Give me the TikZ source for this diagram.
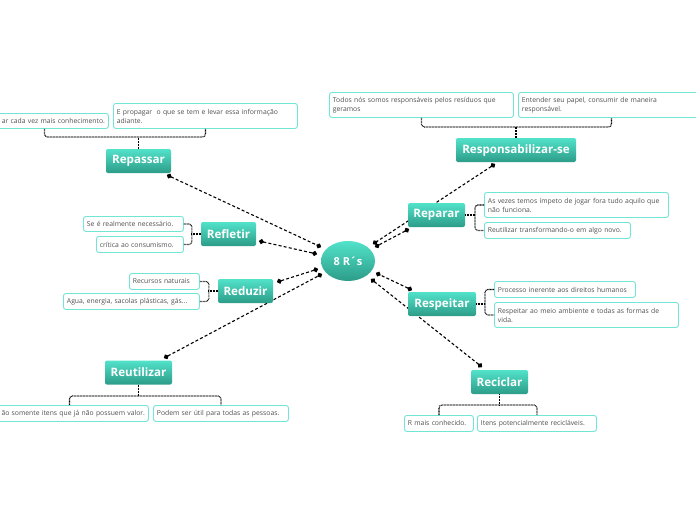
\documentclass[tikz,border=0pt]{standalone}
\usepackage{fontspec}
\setmainfont{Open Sans}
\usetikzlibrary{shapes.geometric,arrows.meta}
\definecolor{tealtop}{HTML}{52E2CA}
\definecolor{tealbot}{HTML}{2C9C88}
\definecolor{subc}{HTML}{72E6D6}
\definecolor{txt}{HTML}{505050}
\begin{document}
\begin{tikzpicture}[x=1pt,y=-1pt,
  topic/.style={rounded corners=2pt, top color=tealtop, bottom color=tealbot, draw=none,
    text=white, font=\fontsize{11.6}{13}\selectfont\bfseries, minimum height=24pt, inner sep=0pt},
  sub/.style 2 args={draw=subc, fill=white, line width=0.9pt, rounded corners=2.5pt, text=txt,
    font=\fontsize{6.8}{9}\selectfont, align=left, inner xsep=3.5pt, inner ysep=0pt,
    anchor=north west, text width=#1pt, minimum height=#2pt},
  conn/.style={black, line width=1.1pt, dash pattern=on 3pt off 2.2pt, {Circle[length=5pt]}-{Circle[length=5pt]}},
  brace/.style={black, line width=1.1pt, dash pattern=on 0.8pt off 0.7pt, rounded corners=3pt}]
\useasboundingbox (0,0) rectangle (696,520);
\fill[white] (0,0) rectangle (696,520);
\clip (0,0) rectangle (696,520);

% connector end points (drawn first, behind the nodes)
\coordinate (a1) at (167,175); \coordinate (b1) at (321,247);
\coordinate (a2) at (259,241); \coordinate (b2) at (317,254);
\coordinate (a3) at (277,282); \coordinate (b3) at (318,269);
\coordinate (a4) at (164,358); \coordinate (b4) at (322,274);
\coordinate (a5) at (495,164); \coordinate (b5) at (373,244);
\coordinate (a6) at (409,229); \coordinate (b6) at (375,247);
\coordinate (a7) at (412,290); \coordinate (b7) at (376,273);
\coordinate (a8) at (482,367); \coordinate (b8) at (371,279);
\foreach \i in {1,...,8} \draw[conn] (a\i) -- (b\i);

% center
\node[ellipse, top color=tealtop, bottom color=tealbot, text=white, minimum width=54pt, minimum height=40pt,
  inner sep=0pt, font=\fontsize{11}{12}\selectfont\bfseries] (c) at (348,261) {8 R´s};

% topics
\node[topic, minimum width=65pt] (rep) at (138.5,161) {Repassar};
\node[topic, minimum width=120pt] (res) at (516,150) {Responsabilizar-se};
\node[topic, minimum width=55pt] (ref) at (228.5,234) {Refletir};
\node[topic, minimum width=55pt] (red) at (245.5,291) {Reduzir};
\node[topic, minimum width=67pt] (reu) at (138.5,372.5) {Reutilizar};
\node[topic, minimum width=57pt] (rpr) at (436.5,215) {Reparar};
\node[topic, minimum width=68pt] (rsp) at (442,304) {Respeitar};
\node[topic, minimum width=57pt] (rec) at (499.5,382) {Reciclar};

% subtopics
\node[sub={121}{15}, align=right] (rp1) at (-20,113) {\mbox{ar cada vez mais conhecimento.}};
\node[sub={177}{25}] (rp2) at (113,103) {\mbox{E propagar\ \ o que se tem e levar essa informação}\\adiante.};
\node[sub={177}{25}] (rs1) at (329,92) {\mbox{Todos nós somos responsáveis pelos resíduos que}\\geramos};
\node[sub={179}{25}] (rs2) at (518,92) {\mbox{Entender seu papel, consumir de maneira}\\responsável.};
\node[sub={93}{15}] (rf1) at (83,216) {\mbox{Se é realmente necessário.}};
\node[sub={80}{16}] (rf2) at (96,236) {\mbox{crítica ao consumismo.}};
\node[sub={63}{16}] (rd1) at (129,273) {\mbox{Recursos naturais}};
\node[sub={129}{16}] (rd2) at (63,293) {\mbox{Agua, energia, sacolas plásticas, gás...}};
\node[sub={151}{16}, align=right] (ru1) at (-10,405) {\mbox{ão somente itens que já não possuem valor.}};
\node[sub={128}{16}] (ru2) at (153,405) {\mbox{Podem ser útil para todas as pessoas.}};
\node[sub={177}{25}] (rr1) at (484,192) {\mbox{As vezes temos ímpeto de jogar fora tudo aquilo que}\\não funciona.};
\node[sub={139}{16}] (rr2) at (484,222) {\mbox{Reutilizar transformando-o em algo novo.}};
\node[sub={134}{16}] (re1) at (494,281) {\mbox{Processo inerente aos direitos humanos}};
\node[sub={177}{25}] (re2) at (494,302) {\mbox{Respeitar ao meio ambiente e todas as formas de}\\vida.};
\node[sub={62}{16}] (rc1) at (404,415) {\mbox{R mais conhecido.}};
\node[sub={112}{16}] (rc2) at (477,415) {\mbox{Itens potencialmente recicláveis.}};

% braces
\draw[brace] (rp1.south) -- (rp1.south |- 0,137) -- (rp2.south |- 0,137) -- (rp2.south);
\draw[brace] (rep.north) -- (rep.north |- 0,137);
\draw[brace] (rs1.south) -- (rs1.south |- 0,127) -- (rs2.south |- 0,127) -- (rs2.south);
\draw[brace] (res.north) -- (res.north |- 0,127);
\draw[brace] (ru1.north) -- (ru1.north |- 0,396) -- (ru2.north |- 0,396) -- (ru2.north);
\draw[brace] (reu.south) -- (reu.south |- 0,396);
\draw[brace] (rc1.north) -- (rc1.north |- 0,405) -- (rc2.north |- 0,405) -- (rc2.north);
\draw[brace] (rec.south) -- (rec.south |- 0,405);
\draw[brace] (rf1.east) -- ++(8,0) |- (rf2.east);
\draw[brace] (ref.west) -- ++(-10,0);
\draw[brace] (rd1.east) -- ++(9,0) |- (rd2.east);
\draw[brace] (red.west) -- ++(-10,0);
\draw[brace] (rr1.west) -- ++(-9,0) |- (rr2.west);
\draw[brace] (rpr.east) -- ++(10,0);
\draw[brace] (re1.west) -- ++(-9,0) |- (re2.west);
\draw[brace] (rsp.east) -- ++(9,0);
\end{tikzpicture}
\end{document}
